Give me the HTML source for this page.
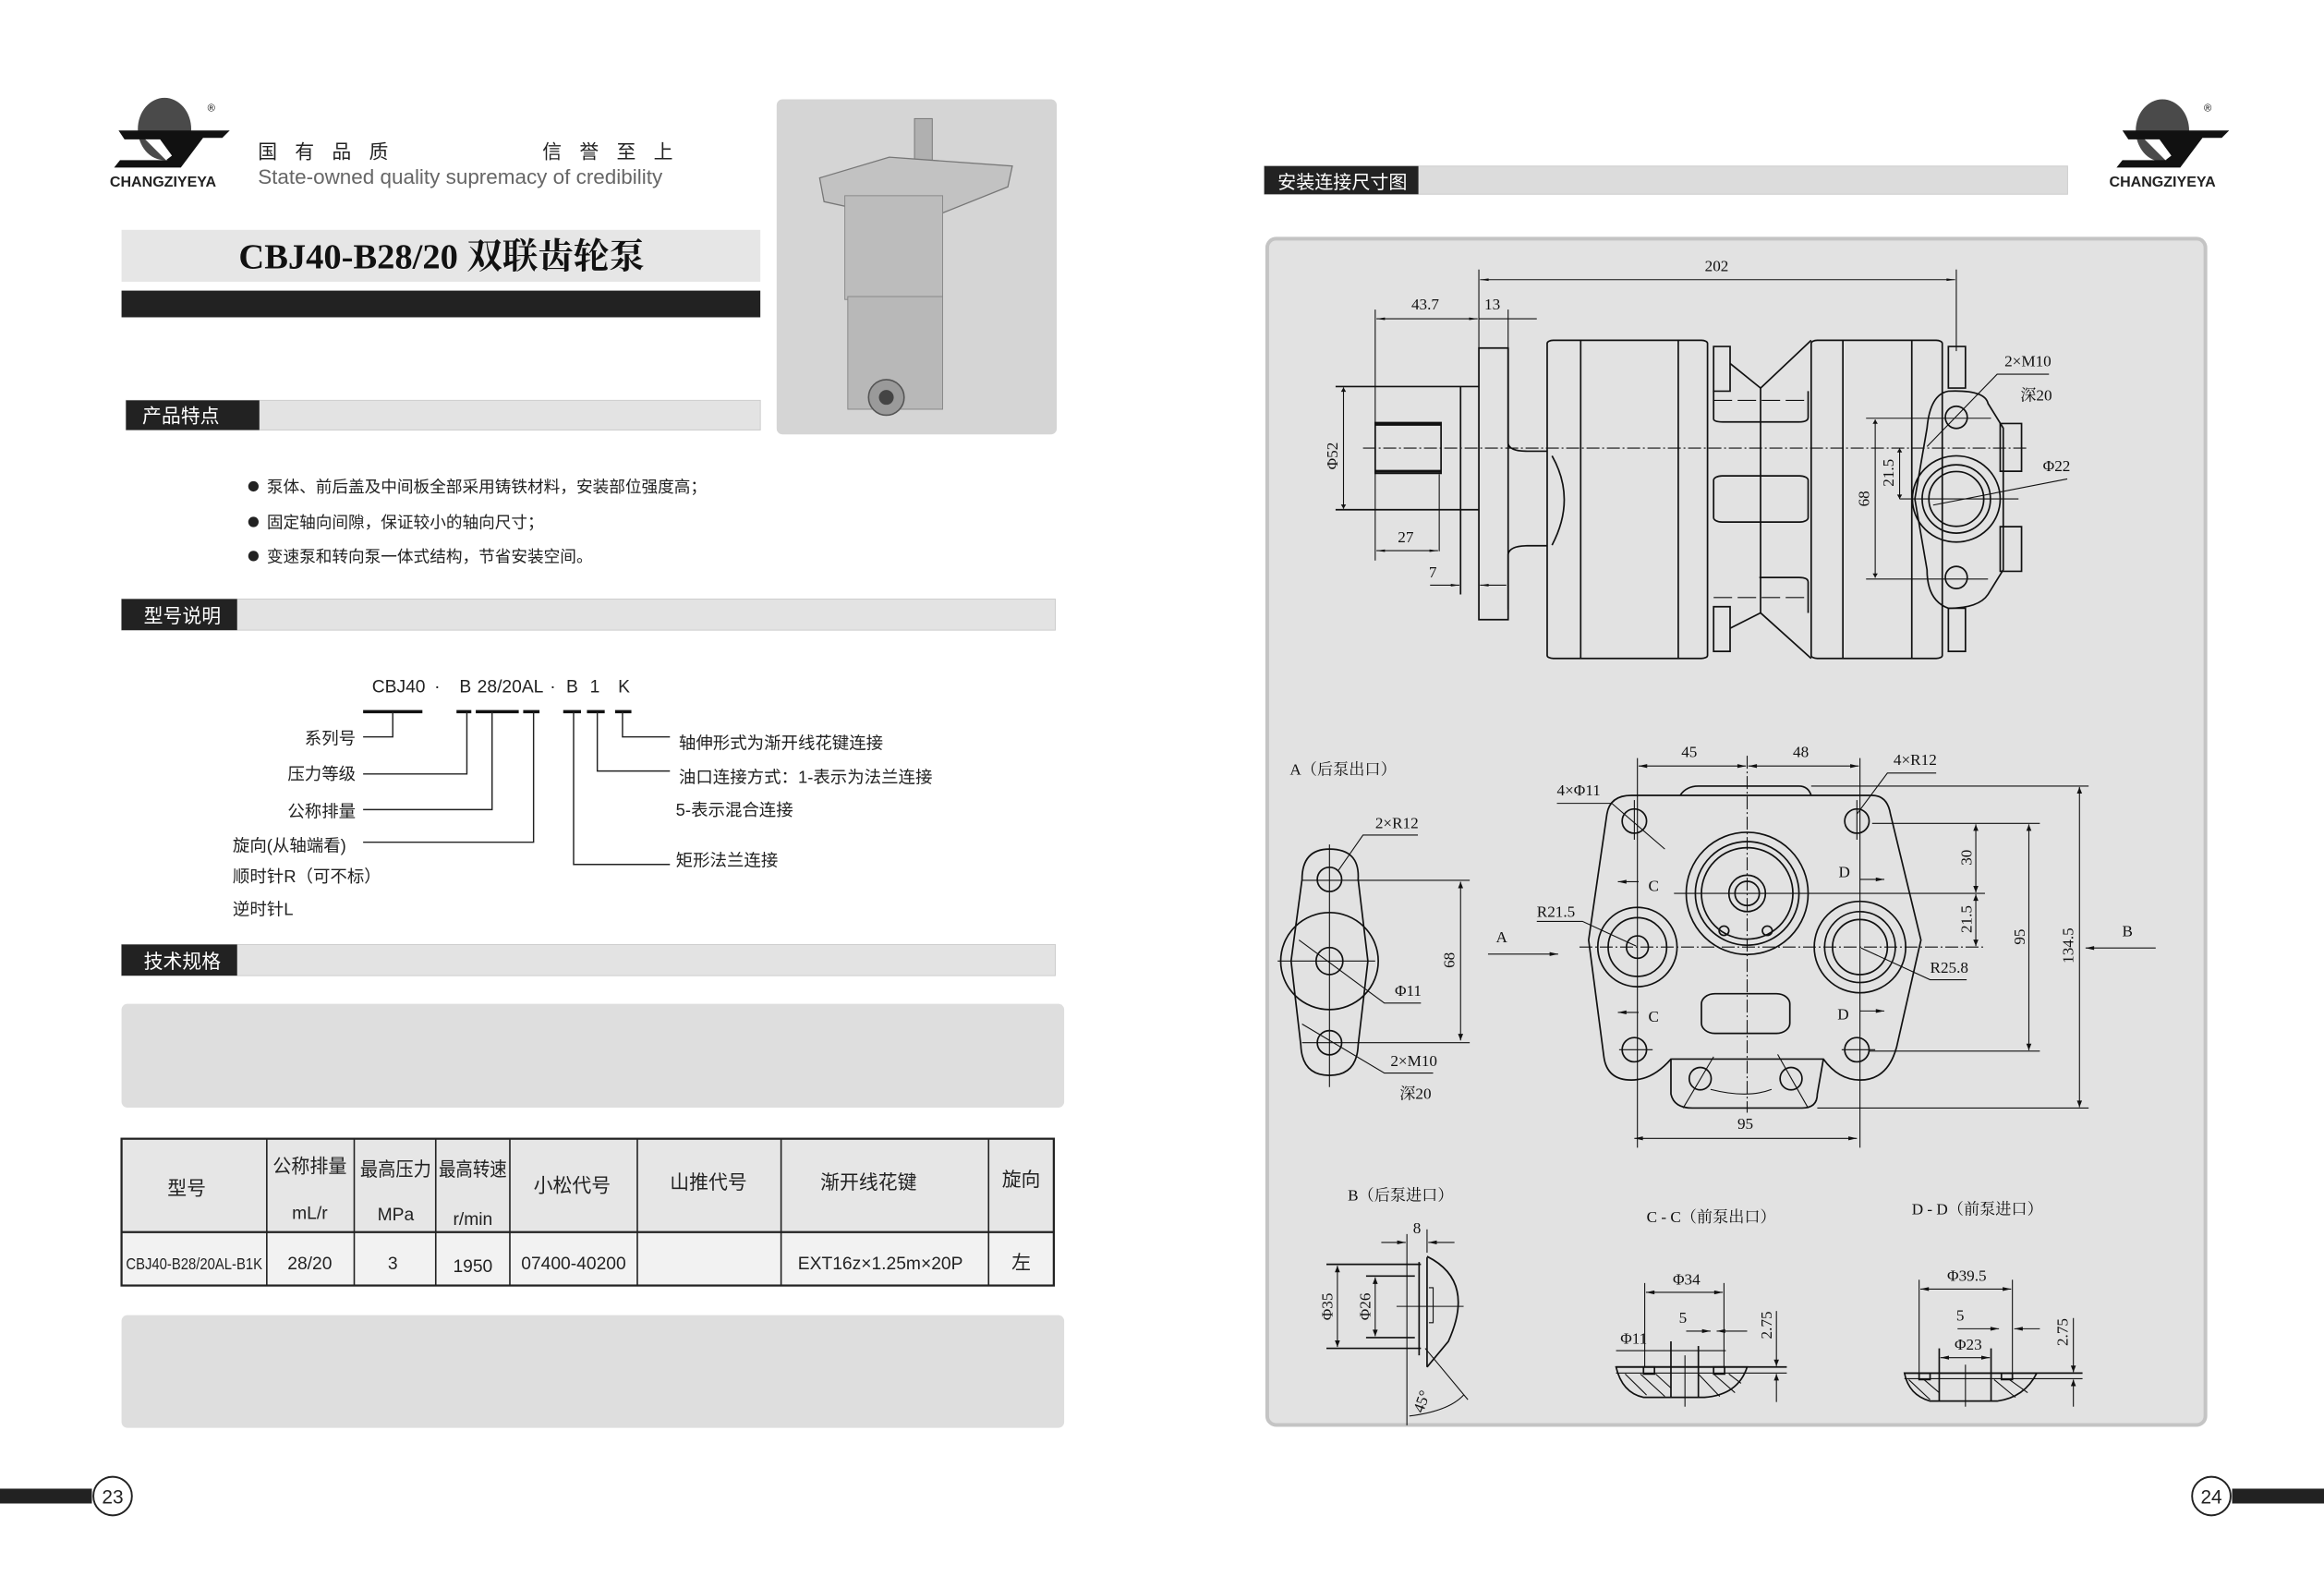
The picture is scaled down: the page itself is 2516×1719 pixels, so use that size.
<!DOCTYPE html>
<html><head><meta charset="utf-8"><style>
html,body{margin:0;padding:0;background:#fff;}
svg{display:block;}
text{font-family:"Liberation Sans","Noto Sans CJK SC",sans-serif;}
.cj{font-family:"Liberation Serif","Noto Serif CJK SC",serif;}
.d line,.d path,.d circle,.d ellipse,.d rect,.d polyline{fill:none;stroke:#111;stroke-width:1.7;vector-effect:non-scaling-stroke;}
.d .thin{stroke-width:1.1;}
.d .cl{stroke-dasharray:14 3 2 3;stroke-width:1.1;}
.d text{font-family:"Liberation Serif","Noto Serif CJK SC",serif;font-size:26px;fill:#111;}
</style></head><body>
<svg width="2516" height="1719" viewBox="0 0 1568 1071" preserveAspectRatio="none" xmlns="http://www.w3.org/2000/svg">
<defs>
<marker id="ar2" viewBox="0 0 10 10" refX="10" refY="5" markerWidth="26" markerHeight="14" orient="auto-start-reverse" markerUnits="userSpaceOnUse"><path d="M0,2 L10,5 L0,8 Z" fill="#111"/></marker>
</defs>
<rect width="1568" height="1071" fill="#fff"/>

<!-- LEFT LOGO -->
<ellipse cx="111" cy="87" rx="18" ry="21" fill="#4a4a4a"/>
<path d="M80,88 L155,88 L150,93 L137,93 L122,113 L77,113 L81,108 L113,108 L101,94 L84,94 Z" fill="#111"/>
<path d="M98,94 L108,94 L116,105 L112,108 Z" fill="#fff"/>
<text x="140" y="75" font-size="7">®</text>
<text x="110" y="126" font-size="10" font-weight="bold" text-anchor="middle" fill="#222">CHANGZIYEYA</text>
<text x="174" y="107" font-size="13" fill="#222" letter-spacing="12">国有品质</text>
<text x="366" y="107" font-size="13" fill="#222" letter-spacing="12">信誉至上</text>
<text x="174" y="124" font-size="14" fill="#666">State-owned quality supremacy of credibility</text>

<!-- Title -->
<rect x="82" y="155" width="431" height="35" fill="#e6e6e6"/>
<text x="298" y="181" class="cj" font-size="24" font-weight="bold" text-anchor="middle" fill="#111">CBJ40-B28/20 双联齿轮泵</text>
<rect x="82" y="196" width="431" height="18" fill="#222"/>

<!-- Photo -->
<rect x="524" y="67" width="189" height="226" rx="4" fill="#d5d5d5"/>
<rect x="617" y="80" width="12" height="34" fill="#b0b0b0" stroke="#777" stroke-width="0.6"/>
<path d="M553,120 L600,106 L683,112 L680,126 L620,150 L556,136 Z" fill="#c2c2c2" stroke="#777" stroke-width="0.8"/>
<rect x="570" y="132" width="66" height="70" fill="#bcbcbc" stroke="#888" stroke-width="0.6"/>
<rect x="572" y="200" width="64" height="76" fill="#b8b8b8" stroke="#888" stroke-width="0.6"/>
<circle cx="598" cy="268" r="12" fill="#9a9a9a" stroke="#555" stroke-width="1"/>
<circle cx="598" cy="268" r="5" fill="#444"/>

<!-- 产品特点 -->
<rect x="85" y="270" width="428" height="20" fill="#e3e3e3" stroke="#ccc" stroke-width="0.6"/>
<rect x="85" y="270" width="90" height="20" fill="#222"/>
<text x="96" y="285" font-size="13" fill="#fff">产品特点</text>
<g font-size="11" fill="#222">
<circle cx="171" cy="328" r="3.5" fill="#222"/><text x="180" y="332">泵体、前后盖及中间板全部采用铸铁材料，安装部位强度高；</text>
<circle cx="171" cy="352" r="3.5" fill="#222"/><text x="180" y="356">固定轴向间隙，保证较小的轴向尺寸；</text>
<circle cx="171" cy="375" r="3.5" fill="#222"/><text x="180" y="379">变速泵和转向泵一体式结构，节省安装空间。</text>
</g>

<!-- 型号说明 -->
<rect x="82" y="404" width="630" height="21" fill="#e3e3e3" stroke="#ccc" stroke-width="0.6"/>
<rect x="82" y="404" width="78" height="21" fill="#222"/>
<text x="97" y="420" font-size="13" fill="#fff">型号说明</text>

<g class="cj" font-size="12" fill="#222">
<text x="251" y="467">CBJ40</text><text x="293" y="467">·</text><text x="310" y="467">B</text><text x="322" y="467">28/20AL</text><text x="371" y="467">·</text><text x="382" y="467">B</text><text x="398" y="467">1</text><text x="417" y="467">K</text>
</g>
<g stroke="#111" stroke-width="2.2" fill="none">
<line x1="245" y1="480" x2="285" y2="480"/><line x1="308" y1="480" x2="318" y2="480"/><line x1="321" y1="480" x2="350" y2="480"/><line x1="353" y1="480" x2="364" y2="480"/><line x1="380" y1="480" x2="392" y2="480"/><line x1="396" y1="480" x2="408" y2="480"/><line x1="415" y1="480" x2="426" y2="480"/>
</g>
<g stroke="#222" stroke-width="0.9" fill="none">
<polyline points="265,480 265,497 245,497"/><polyline points="315,480 315,522 245,522"/><polyline points="332,480 332,546 245,546"/><polyline points="360,480 360,568 245,568"/>
<polyline points="420,480 420,497 452,497"/><polyline points="403,480 403,520 452,520"/><polyline points="387,480 387,583 452,583"/>
</g>
<g class="cj" font-size="11.5" fill="#222">
<text x="240" y="502" text-anchor="end">系列号</text>
<text x="240" y="526" text-anchor="end">压力等级</text>
<text x="240" y="551" text-anchor="end">公称排量</text>
<text x="157" y="574">旋向(从轴端看)</text>
<text x="157" y="595">顺时针R（可不标）</text>
<text x="157" y="617">逆时针L</text>
<text x="458" y="505">轴伸形式为渐开线花键连接</text>
<text x="458" y="528">油口连接方式：1-表示为法兰连接</text>
<text x="456" y="550">5-表示混合连接</text>
<text x="456" y="584">矩形法兰连接</text>
</g>

<!-- 技术规格 -->
<rect x="82" y="637" width="630" height="21" fill="#e3e3e3" stroke="#ccc" stroke-width="0.6"/>
<rect x="82" y="637" width="78" height="21" fill="#222"/>
<text x="97" y="653" font-size="13" fill="#fff">技术规格</text>

<rect x="82" y="677" width="636" height="70" rx="4" fill="#dedede"/>
<rect x="82" y="887" width="636" height="76" rx="4" fill="#dedede"/>

<!-- Table -->
<rect x="82" y="768" width="629" height="63" fill="#e6e6e6"/>
<rect x="82" y="831" width="629" height="36" fill="#f2f2f2"/>
<g stroke="#222" stroke-width="1" fill="none">
<rect x="82" y="768" width="629" height="99" stroke-width="1.4"/>
<line x1="82" y1="831" x2="711" y2="831" stroke-width="1.4"/>
<line x1="180" y1="768" x2="180" y2="867"/><line x1="239" y1="768" x2="239" y2="867"/><line x1="294" y1="768" x2="294" y2="867"/><line x1="344" y1="768" x2="344" y2="867"/><line x1="430" y1="768" x2="430" y2="867"/><line x1="527" y1="768" x2="527" y2="867"/><line x1="667" y1="768" x2="667" y2="867"/>
</g>
<g class="cj" font-size="13" fill="#222" text-anchor="middle">
<text x="126" y="806">型号</text>
<text x="209" y="791" textLength="50" lengthAdjust="spacingAndGlyphs">公称排量</text><text x="209" y="822" font-size="12">mL/r</text>
<text x="267" y="793" textLength="48" lengthAdjust="spacingAndGlyphs">最高压力</text><text x="267" y="823" font-size="12">MPa</text>
<text x="319" y="793" textLength="46" lengthAdjust="spacingAndGlyphs">最高转速</text><text x="319" y="826" font-size="12">r/min</text>
<text x="386" y="804">小松代号</text>
<text x="478" y="802">山推代号</text>
<text x="586" y="802">渐开线花键</text>
<text x="689" y="800">旋向</text>
<text x="131" y="856" font-size="11" textLength="92" lengthAdjust="spacingAndGlyphs">CBJ40-B28/20AL-B1K</text>
<text x="209" y="856" font-size="12">28/20</text>
<text x="265" y="856" font-size="12">3</text>
<text x="319" y="858" font-size="12">1950</text>
<text x="387" y="856" font-size="12">07400-40200</text>
<text x="594" y="856" font-size="12">EXT16z×1.25m×20P</text>
<text x="689" y="856">左</text>
</g>

<!-- page numbers -->
<rect x="0" y="1004" width="62" height="10" fill="#222"/>
<circle cx="76" cy="1009" r="13" fill="#fff" stroke="#222" stroke-width="1.2"/>
<text x="76" y="1014" font-size="13" text-anchor="middle" fill="#222">23</text>
<rect x="1506" y="1004" width="62" height="10" fill="#222"/>
<circle cx="1492" cy="1009" r="13" fill="#fff" stroke="#222" stroke-width="1.2"/>
<text x="1492" y="1014" font-size="13" text-anchor="middle" fill="#222">24</text>

<!-- RIGHT PAGE header -->
<rect x="853" y="112" width="542" height="19" fill="#dcdcdc" stroke="#ccc" stroke-width="0.6"/>
<rect x="853" y="112" width="104" height="19" fill="#222"/>
<text x="862" y="127" font-size="12.5" fill="#fff">安装连接尺寸图</text>
<ellipse cx="1459" cy="88" rx="18" ry="21" fill="#4a4a4a"/>
<path d="M1432,88 L1504,88 L1499,93 L1486,93 L1471,113 L1428,113 L1432,108 L1462,108 L1450,94 L1436,94 Z" fill="#111"/>
<path d="M1447,94 L1457,94 L1465,105 L1461,108 Z" fill="#fff"/>
<text x="1487" y="75" font-size="7">®</text>
<text x="1459" y="126" font-size="10" font-weight="bold" text-anchor="middle" fill="#222">CHANGZIYEYA</text>

<!-- drawing panel -->
<rect x="855" y="161" width="633" height="800" rx="6" fill="#e2e2e2" stroke="#c4c4c4" stroke-width="2.5"/>

<!-- TOP VIEW (sx 0.4114, sy 0.2077; text counter-scale 1.98) -->
<g class="d" transform="translate(853.8,155.8) scale(0.4114,0.2077)">
<line class="thin" x1="350" y1="125" x2="350" y2="1262"/><line class="thin" x1="1133" y1="125" x2="1133" y2="390"/>
<line class="thin" x1="352" y1="158" x2="1131" y2="158" marker-start="url(#ar2)" marker-end="url(#ar2)"/>
<text transform="translate(740,130) scale(1,1.98)" text-anchor="middle">202</text>
<line class="thin" x1="180" y1="255" x2="180" y2="1070"/><line class="thin" x1="398" y1="255" x2="398" y2="380"/>
<line class="thin" x1="182" y1="285" x2="348" y2="285" marker-start="url(#ar2)" marker-end="url(#ar2)"/>
<line class="thin" x1="350" y1="285" x2="445" y2="285"/>
<text transform="translate(262,255) scale(1,1.98)" text-anchor="middle">43.7</text><text transform="translate(372,255) scale(1,1.98)" text-anchor="middle">13</text>
<rect x="350" y="380" width="48" height="882"/>
<line x1="115" y1="505" x2="350" y2="505"/><line x1="115" y1="905" x2="350" y2="905"/>
<line x1="320" y1="505" x2="320" y2="1180"/>
<rect x="180" y="622" width="108" height="165"/>
<line x1="180" y1="628" x2="288" y2="628" style="stroke-width:3"/><line x1="180" y1="780" x2="288" y2="780" style="stroke-width:3"/>
<line class="thin" x1="128" y1="508" x2="128" y2="902" marker-start="url(#ar2)" marker-end="url(#ar2)"/>
<text transform="translate(118,775) scale(1,1.98) rotate(-90)">Φ52</text>
<line class="cl" x1="160" y1="705" x2="1250" y2="705"/>
<path d="M398,380 L398,690 Q400,715 430,715 L462,715"/>
<path d="M398,1230 L398,1050 Q400,1022 430,1022 L462,1022"/>
<path d="M470,730 Q510,870 470,1020"/>
<rect x="462" y="355" width="263" height="1033" rx="10"/>
<line x1="517" y1="355" x2="517" y2="1388"/><line x1="677" y1="355" x2="677" y2="1388"/>
<rect x="735" y="375" width="27" height="145"/><rect x="735" y="1220" width="27" height="145"/>
<polyline points="762,430 812,510 895,355"/><polyline points="762,1290 812,1240 895,1388"/>
<line x1="812" y1="510" x2="812" y2="1240"/>
<rect x="735" y="795" width="155" height="150" rx="14"/>
<path d="M735,520 L735,610 Q735,620 750,620 L875,620 Q890,620 890,605 L890,520"/>
<path d="M810,1125 L875,1125 Q890,1125 890,1140 L890,1240"/>
<line class="thin" x1="735" y1="550" x2="885" y2="550" stroke-dasharray="20 6"/><line class="thin" x1="735" y1="1190" x2="885" y2="1190" stroke-dasharray="20 6"/>
<rect x="895" y="355" width="215" height="1033" rx="10"/>
<line x1="947" y1="355" x2="947" y2="1388"/><line x1="1060" y1="355" x2="1060" y2="1388"/>
<rect x="1120" y="375" width="28" height="135"/><rect x="1120" y="1225" width="28" height="140"/>
<path d="M1120,520 Q1180,515 1185,560 L1210,640 L1210,1100 L1185,1180 Q1170,1225 1120,1225 Q1085,1200 1085,1100 L1065,870 L1085,640 Q1090,530 1120,520 Z"/>
<ellipse cx="1133" cy="605" rx="18" ry="36"/><ellipse cx="1133" cy="1125" rx="18" ry="36"/>
<ellipse cx="1133" cy="870" rx="45" ry="89"/><ellipse cx="1133" cy="870" rx="56" ry="111"/>
<ellipse cx="1133" cy="870" rx="72" ry="140"/>
<rect x="1205" y="625" width="35" height="155"/><rect x="1205" y="960" width="35" height="145"/>
<line class="thin" x1="1000" y1="612" x2="1000" y2="1126" marker-start="url(#ar2)" marker-end="url(#ar2)"/>
<line class="thin" x1="985" y1="608" x2="1190" y2="608"/><line class="thin" x1="985" y1="1130" x2="1185" y2="1130"/>
<text transform="translate(990,895) scale(1,1.98) rotate(-90)">68</text>
<line class="thin" x1="1040" y1="705" x2="1040" y2="870" marker-start="url(#ar2)" marker-end="url(#ar2)"/>
<line class="thin" x1="1040" y1="870" x2="1235" y2="870"/>
<text transform="translate(1030,830) scale(1,1.98) rotate(-90)">21.5</text>
<polyline class="thin" points="1085,700 1200,465 1285,465"/>
<text transform="translate(1212,440) scale(1,1.98)">2×M10</text><text transform="translate(1238,550) scale(1,1.98)">深20</text>
<line class="thin" x1="1095" y1="890" x2="1315" y2="805"/>
<text transform="translate(1275,780) scale(1,1.98)">Φ22</text>
<line class="thin" x1="182" y1="1038" x2="283" y2="1038" marker-start="url(#ar2)" marker-end="url(#ar2)"/>
<line class="thin" x1="285" y1="790" x2="285" y2="1040"/>
<text transform="translate(230,1010) scale(1,1.98)" text-anchor="middle">27</text>
<line class="thin" x1="270" y1="1150" x2="318" y2="1150" marker-end="url(#ar2)"/>
<line class="thin" x1="395" y1="1150" x2="352" y2="1150" marker-end="url(#ar2)"/>
<text transform="translate(268,1125) scale(1,1.98)">7</text>
</g>

<!-- BOTTOM VIEWS (sx 0.4114, sy 0.3147; text counter-scale 1.307) -->
<g class="d" transform="translate(853.8,486.1) scale(0.4114,0.3147)">
<text transform="translate(40,115) scale(1,1.307)">A（后泵出口）</text>
<path d="M60,340 Q60,275 105,275 Q155,275 152,340 L168,515 L152,695 Q150,760 105,760 Q60,760 58,695 L42,515 Z"/>
<ellipse cx="105" cy="340" rx="20" ry="26"/><ellipse cx="105" cy="690" rx="20" ry="26"/>
<ellipse cx="105" cy="515" rx="80" ry="104"/><ellipse cx="105" cy="515" rx="22" ry="29"/>
<line class="thin" x1="105" y1="265" x2="105" y2="785"/><line class="thin" x1="20" y1="515" x2="180" y2="515"/>
<line class="thin" x1="320" y1="345" x2="320" y2="685" marker-start="url(#ar2)" marker-end="url(#ar2)"/>
<line class="thin" x1="60" y1="342" x2="335" y2="342"/><line class="thin" x1="60" y1="690" x2="335" y2="690"/>
<text transform="translate(310,530) scale(1,1.307) rotate(-90)">68</text>
<polyline class="thin" points="120,320 160,245 250,245"/><text transform="translate(180,230) scale(1,1.307)">2×R12</text>
<polyline class="thin" points="55,470 195,605 255,605"/><text transform="translate(212,590) scale(1,1.307)">Φ11</text>
<polyline class="thin" points="60,650 195,755 275,755"/><text transform="translate(205,740) scale(1,1.307)">2×M10</text><text transform="translate(220,810) scale(1,1.307)">深20</text>

<path d="M600,160 L995,160 Q1020,160 1025,200 L1075,470 L1035,700 Q1020,770 975,770 Q940,770 915,725 L665,725 Q635,770 600,770 Q560,770 555,720 L530,470 L560,200 Q565,160 600,160 Z"/>
<path d="M680,160 Q690,140 710,140 L875,140 Q890,140 895,160"/>
<path d="M665,725 L665,800 Q670,830 700,830 L880,830 Q905,830 905,800 L915,725"/>
<ellipse cx="605" cy="215" rx="20" ry="26"/><ellipse cx="970" cy="215" rx="20" ry="26"/><ellipse cx="605" cy="705" rx="20" ry="26"/><ellipse cx="970" cy="705" rx="20" ry="26"/>
<ellipse cx="790" cy="370" rx="100" ry="131"/><ellipse cx="790" cy="370" rx="85" ry="111"/><ellipse cx="790" cy="370" rx="75" ry="98"/>
<ellipse cx="790" cy="370" rx="30" ry="39"/><ellipse cx="790" cy="370" rx="20" ry="26"/>
<ellipse cx="752" cy="450" rx="8" ry="10"/><ellipse cx="823" cy="450" rx="8" ry="10"/>
<ellipse cx="610" cy="485" rx="65" ry="85"/><ellipse cx="610" cy="485" rx="48" ry="63"/><ellipse cx="610" cy="485" rx="18" ry="24"/>
<ellipse cx="975" cy="485" rx="75" ry="98"/><ellipse cx="975" cy="485" rx="58" ry="76"/><ellipse cx="975" cy="485" rx="45" ry="59"/>
<rect x="715" y="585" width="145" height="85" rx="22"/>
<ellipse cx="713" cy="767" rx="18" ry="24"/><ellipse cx="862" cy="767" rx="18" ry="24"/>
<path class="thin" d="M730,790 Q790,810 830,790"/>
<line class="thin" x1="735" y1="720" x2="685" y2="830"/><line class="thin" x1="840" y1="715" x2="890" y2="830"/>
<line class="cl" x1="790" y1="75" x2="790" y2="840"/>
<line class="thin" x1="670" y1="370" x2="1180" y2="370"/>
<line class="cl" x1="515" y1="485" x2="1180" y2="485"/>
<line class="thin" x1="605" y1="170" x2="605" y2="255"/><line class="thin" x1="970" y1="170" x2="970" y2="255"/>
<line class="thin" x1="580" y1="705" x2="635" y2="705"/><line class="thin" x1="945" y1="705" x2="1000" y2="705"/>
<line class="thin" x1="612" y1="97" x2="788" y2="97" marker-start="url(#ar2)" marker-end="url(#ar2)"/>
<line class="thin" x1="792" y1="97" x2="973" y2="97" marker-start="url(#ar2)" marker-end="url(#ar2)"/>
<line class="thin" x1="610" y1="80" x2="610" y2="915"/><line class="thin" x1="975" y1="80" x2="975" y2="915"/>
<text transform="translate(695,78) scale(1,1.307)" text-anchor="middle">45</text><text transform="translate(878,78) scale(1,1.307)" text-anchor="middle">48</text>
<polyline class="thin" points="478,177 568,177 655,275"/><text transform="translate(478,160) scale(1,1.307)">4×Φ11</text>
<polyline class="thin" points="970,200 1020,112 1100,112"/><text transform="translate(1030,95) scale(1,1.307)">4×R12</text>
<line class="thin" x1="612" y1="345" x2="578" y2="345" marker-end="url(#ar2)"/><text transform="translate(628,365) scale(1,1.307)">C</text>
<line class="thin" x1="612" y1="625" x2="578" y2="625" marker-end="url(#ar2)"/><text transform="translate(628,645) scale(1,1.307)">C</text>
<line class="thin" x1="975" y1="340" x2="1015" y2="340" marker-end="url(#ar2)"/><text transform="translate(940,335) scale(1,1.307)">D</text>
<line class="thin" x1="975" y1="622" x2="1015" y2="622" marker-end="url(#ar2)"/><text transform="translate(938,640) scale(1,1.307)">D</text>
<polyline class="thin" points="445,430 520,430 608,483"/><text transform="translate(445,420) scale(1,1.307)">R21.5</text>
<polyline class="thin" points="977,487 1090,555 1150,555"/><text transform="translate(1090,540) scale(1,1.307)">R25.8</text>
<line class="thin" x1="365" y1="500" x2="480" y2="500" marker-end="url(#ar2)"/><text transform="translate(378,475) scale(1,1.307)">A</text>
<line class="thin" x1="1460" y1="487" x2="1345" y2="487" marker-end="url(#ar2)"/><text transform="translate(1405,462) scale(1,1.307)">B</text>
<line class="thin" x1="895" y1="140" x2="1350" y2="140"/><line class="thin" x1="995" y1="220" x2="1270" y2="220"/>
<line class="thin" x1="990" y1="708" x2="1270" y2="708"/><line class="thin" x1="905" y1="830" x2="1350" y2="830"/>
<line class="thin" x1="1165" y1="222" x2="1165" y2="368" marker-start="url(#ar2)" marker-end="url(#ar2)"/>
<line class="thin" x1="1165" y1="372" x2="1165" y2="483" marker-start="url(#ar2)" marker-end="url(#ar2)"/>
<line class="thin" x1="1252" y1="222" x2="1252" y2="706" marker-start="url(#ar2)" marker-end="url(#ar2)"/>
<line class="thin" x1="1335" y1="142" x2="1335" y2="828" marker-start="url(#ar2)" marker-end="url(#ar2)"/>
<text transform="translate(1158,310) scale(1,1.307) rotate(-90)">30</text>
<text transform="translate(1158,455) scale(1,1.307) rotate(-90)">21.5</text>
<text transform="translate(1245,480) scale(1,1.307) rotate(-90)">95</text>
<text transform="translate(1325,520) scale(1,1.307) rotate(-90)">134.5</text>
<line class="thin" x1="605" y1="895" x2="970" y2="895" marker-start="url(#ar2)" marker-end="url(#ar2)"/>
<text transform="translate(787,875) scale(1,1.307)" text-anchor="middle">95</text>

<!-- B view -->
<text transform="translate(135,1028) scale(1,1.307)">B（后泵进口）</text>
<line class="thin" x1="232" y1="1100" x2="232" y2="1510"/>
<line x1="252" y1="1160" x2="252" y2="1360"/><line x1="265" y1="1150" x2="265" y2="1385"/>
<path d="M265,1148 Q345,1200 300,1330 L265,1385"/>
<path class="thin" d="M268,1215 L275,1215 L275,1290 L268,1290"/>
<line x1="100" y1="1165" x2="255" y2="1165"/><line x1="100" y1="1345" x2="255" y2="1345"/>
<line x1="165" y1="1190" x2="245" y2="1190"/><line x1="165" y1="1322" x2="245" y2="1322"/>
<line class="thin" x1="215" y1="1255" x2="325" y2="1255"/>
<line class="thin" x1="118" y1="1168" x2="118" y2="1342" marker-start="url(#ar2)" marker-end="url(#ar2)"/>
<line class="thin" x1="180" y1="1193" x2="180" y2="1319" marker-start="url(#ar2)" marker-end="url(#ar2)"/>
<text transform="translate(110,1285) scale(1,1.307) rotate(-90)">Φ35</text><text transform="translate(172,1285) scale(1,1.307) rotate(-90)">Φ26</text>
<line class="thin" x1="190" y1="1118" x2="230" y2="1118" marker-end="url(#ar2)"/><line class="thin" x1="310" y1="1118" x2="267" y2="1118" marker-end="url(#ar2)"/>
<line class="thin" x1="265" y1="1090" x2="265" y2="1140"/>
<text transform="translate(242,1098) scale(1,1.307)">8</text>
<line class="thin" x1="262" y1="1345" x2="332" y2="1455"/>
<path class="thin" d="M236,1490 Q300,1480 325,1445"/>
<text transform="translate(258,1485) scale(1,1.307) rotate(-70)">45°</text>

<!-- C-C -->
<text transform="translate(625,1075) scale(1,1.307)">C - C（前泵出口）</text>
<path d="M575,1385 L790,1385 Q775,1445 720,1450 L620,1450 Q585,1440 575,1385 Z"/>
<line x1="575" y1="1385" x2="855" y2="1385"/><line class="thin" x1="575" y1="1398" x2="855" y2="1398"/>
<rect x="620" y="1385" width="18" height="15"/><rect x="735" y="1385" width="18" height="15"/>
<line x1="665" y1="1330" x2="665" y2="1450"/><line x1="710" y1="1340" x2="710" y2="1450"/>
<line class="thin" x1="688" y1="1360" x2="688" y2="1470"/>
<path class="thin" d="M590,1400 L625,1445 M615,1400 L655,1448 M640,1400 L665,1430 M710,1400 L745,1448 M735,1400 L770,1440 M760,1400 L780,1420"/>
<line class="thin" x1="622" y1="1205" x2="622" y2="1385"/><line class="thin" x1="752" y1="1205" x2="752" y2="1385"/>
<line class="thin" x1="624" y1="1225" x2="750" y2="1225" marker-start="url(#ar2)" marker-end="url(#ar2)"/>
<text transform="translate(668,1208) scale(1,1.307)">Φ34</text>
<line class="thin" x1="690" y1="1308" x2="730" y2="1308" marker-end="url(#ar2)"/><line class="thin" x1="790" y1="1308" x2="740" y2="1308" marker-end="url(#ar2)"/>
<text transform="translate(678,1290) scale(1,1.307)">5</text>
<line class="thin" x1="575" y1="1350" x2="755" y2="1350"/><text transform="translate(582,1335) scale(1,1.307)">Φ11</text>
<line class="thin" x1="838" y1="1265" x2="838" y2="1383" marker-end="url(#ar2)"/><line class="thin" x1="838" y1="1460" x2="838" y2="1400" marker-end="url(#ar2)"/>
<text transform="translate(830,1325) scale(1,1.307) rotate(-90)">2.75</text>

<!-- D-D -->
<text transform="translate(1060,1058) scale(1,1.307)">D - D（前泵进口）</text>
<path d="M1048,1398 L1265,1398 Q1245,1450 1200,1458 L1090,1458 Q1055,1445 1048,1398 Z"/>
<line x1="1048" y1="1398" x2="1340" y2="1398"/><line class="thin" x1="1048" y1="1410" x2="1340" y2="1410"/>
<rect x="1072" y="1398" width="18" height="14"/><rect x="1207" y="1398" width="18" height="14"/>
<line x1="1105" y1="1345" x2="1105" y2="1458"/><line x1="1190" y1="1345" x2="1190" y2="1458"/>
<line class="thin" x1="1148" y1="1380" x2="1148" y2="1470"/>
<path class="thin" d="M1055,1412 L1090,1455 M1080,1412 L1105,1440 M1195,1412 L1230,1450 M1220,1412 L1250,1440"/>
<line class="thin" x1="1072" y1="1198" x2="1072" y2="1398"/><line class="thin" x1="1225" y1="1198" x2="1225" y2="1398"/>
<line class="thin" x1="1074" y1="1218" x2="1223" y2="1218" marker-start="url(#ar2)" marker-end="url(#ar2)"/>
<text transform="translate(1118,1200) scale(1,1.307)">Φ39.5</text>
<line class="thin" x1="1135" y1="1303" x2="1203" y2="1303" marker-end="url(#ar2)"/><line class="thin" x1="1270" y1="1303" x2="1228" y2="1303" marker-end="url(#ar2)"/>
<text transform="translate(1133,1285) scale(1,1.307)">5</text>
<line class="thin" x1="1107" y1="1365" x2="1188" y2="1365" marker-start="url(#ar2)" marker-end="url(#ar2)"/>
<text transform="translate(1130,1348) scale(1,1.307)">Φ23</text>
<line class="thin" x1="1325" y1="1280" x2="1325" y2="1396" marker-end="url(#ar2)"/><line class="thin" x1="1325" y1="1470" x2="1325" y2="1412" marker-end="url(#ar2)"/>
<text transform="translate(1316,1340) scale(1,1.307) rotate(-90)">2.75</text>
</g>
</svg>
</body></html>
